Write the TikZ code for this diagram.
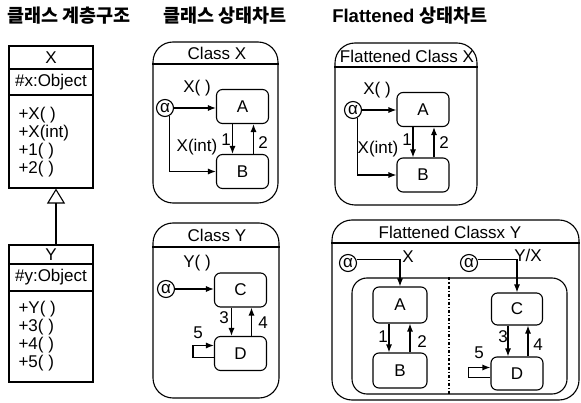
\documentclass[tikz,border=0pt]{standalone}
\usepackage{fontspec}
\setmainfont{Liberation Sans}
\newfontfamily\krfont{Noto Sans CJK KR}
\usetikzlibrary{arrows.meta}

\begin{document}
\begin{tikzpicture}[x = 1pt, y = -1pt, >={Latex[length = 8pt, width = 6pt]}, line width = 1.1pt,
	every node/.style = {font = \fontsize{17}{19}\selectfont, inner sep = 1pt},
	title/.style = {font = \fontsize{18.5}{20}\selectfont\bfseries},
	state/.style = {draw, rounded corners = 6pt, minimum width = 52pt, minimum height = 34pt},
	chart/.style = {draw, rounded corners = 20pt},
	initial/.style = {draw, circle, minimum size = 17pt, inner sep = 0pt}]
			 	\useasboundingbox (0,0) rectangle (581,403);
			 	%%%	Titoli
			 	\node[title] (tHier) at (69,16) {\krfont 클래스 계층구조};
			 	\node[title] (tChart) at (225,16) {\krfont 클래스 상태차트};
			 	\node[title] (tFlat) at (410,16) {Flattened {\krfont 상태차트}};
			 	
			 	%%%	Gerarchia delle classi
			 	\node[draw, minimum width = 84pt, minimum height = 142pt] (clsX) at (51,117) {};
			 	\draw (clsX.west |- 0,69) -- (clsX.east |- 0,69);
			 	\draw (clsX.west |- 0,95) -- (clsX.east |- 0,95);
			 	\node (nameX) at (51,57.5) {X};
			 	\node (attrX) at (51,82) {\#x:Object};
			 	\foreach \t [count = \i] in {+X( ),+X(int),+1( ),+2( )}
			 	\node[anchor = west] (opX\i) at (17, 97 + 18*\i) {\t};
			 	
			 	\node[draw, minimum width = 84pt, minimum height = 137pt] (clsY) at (51,313.5) {};
			 	\draw (clsY.west |- 0,264) -- (clsY.east |- 0,264);
			 	\draw (clsY.west |- 0,291) -- (clsY.east |- 0,291);
			 	\node (nameY) at (51,254.5) {Y};
			 	\node (attrY) at (51,277.5) {\#y:Object};
			 	\foreach \t [count = \i] in {+Y( ),+3( ),+4( ),+5( )}
			 	\node[anchor = west] (opY\i) at (17, 291 + 18*\i) {\t};
			 	
			 	\draw[-{Triangle[open, length = 15pt, width = 18pt]}] ([xshift = 5pt]clsY.north) -- ([xshift = 5pt]clsX.south);
			 	
			 	%%%	Class X
			 	\node[chart, minimum width = 125pt, minimum height = 161pt] (chX) at (215.5,122.5) {};
			 	\draw (chX.west |- 0,64) -- (chX.east |- 0,64);
			 	\node (tX) at (217,53) {Class X};
			 	\node[initial] (iniX) at (165,108) {α};
			 	\node[state] (sA) at (242.5,106.5) {A};
			 	\node[state] (sB) at (242.5,171.5) {B};
			 	\draw[->] (iniX) -- (iniX -| sA.west);
			 	\node (lXa) at (197,88) {X( )};
			 	\draw[->] (iniX.-60) |- (sB.west);
			 	\node (lXi) at (197,147) {X(int)};
			 	\draw[->] ([xshift = -10pt]sA.south) -- ([xshift = -10pt]sB.north);
			 	\draw[->] ([xshift = 11pt]sB.north) -- ([xshift = 11pt]sA.south);
			 	\node (lX1) at (226,140) {1};
			 	\node (lX2) at (263,143) {2};
			 	
			 	%%%	Class Y
			 	\node[chart, minimum width = 126pt, minimum height = 175pt] (chY) at (216,310.5) {};
			 	\draw (chY.west |- 0,247) -- (chY.east |- 0,247);
			 	\node (tY) at (217,235) {Class Y};
			 	\node[initial] (iniY) at (166,289) {α};
			 	\node[state] (sC) at (240.5,290) {C};
			 	\node[state] (sD) at (240.5,353.5) {D};
			 	\draw[->] (iniY) -- (iniY -| sC.west);
			 	\node (lYa) at (197,263) {Y( )};
			 	\draw[->] ([xshift = -9pt]sC.south) -- ([xshift = -9pt]sD.north);
			 	\draw[->] ([xshift = 11pt]sD.north) -- ([xshift = 11pt]sC.south);
			 	\draw[->] ([yshift = -4pt]sD.west) -- ++(-21,0) |- ([yshift = 8pt]sD.west);
			 	\node (lY3) at (224,318) {3};
			 	\node (lY4) at (263,323) {4};
			 	\node (lY5) at (198,333) {5};
			 	
			 	%%%	Flattened Class X
			 	\node[chart, minimum width = 142pt, minimum height = 162pt] (fchX) at (406,124) {};
			 	\draw (fchX.west |- 0,67) -- (fchX.east |- 0,67);
			 	\node (tFX) at (407,56) {Flattened Class X};
			 	\node[initial] (iniFX) at (353,110) {α};
			 	\node[state] (fA) at (423,109.5) {A};
			 	\node[state] (fB) at (423,175) {B};
			 	\draw[->] (iniFX) -- (iniFX -| fA.west);
			 	\node (lFXa) at (377,90) {X( )};
			 	\draw[->] (iniFX.-60) |- (fB.west);
			 	\node (lFXi) at (378,149) {X(int)};
			 	\draw[->] ([xshift = -10pt]fA.south) -- ([xshift = -10pt]fB.north);
			 	\draw[->] ([xshift = 11pt]fB.north) -- ([xshift = 11pt]fA.south);
			 	\node (lFX1) at (407,140) {1};
			 	\node (lFX2) at (444,143) {2};
			 	
			 	%%%	Flattened Classx Y
			 	\node[chart, minimum width = 247pt, minimum height = 180pt] (fchY) at (455.5,310) {};
			 	\draw (fchY.west |- 0,243) -- (fchY.east |- 0,243);
			 	\node (tFY) at (450,232) {Flattened Classx Y};
			 	\node[draw, rounded corners = 15pt, minimum width = 215pt, minimum height = 116pt] (reg) at (459.5,336) {};
			 	\draw[dash dot] (reg.north -| 449,0) -- (reg.south -| 449,0);
			 	
			 	\node[initial] (iniL) at (348,263) {α};
			 	\node[state, minimum width = 54pt, minimum height = 36pt] (ffA) at (400,305) {A};
			 	\node[state, minimum width = 54pt, minimum height = 35pt] (ffB) at (400,370.5) {B};
			 	\draw[->] (iniL.20) -| (ffA.north);
			 	\node (lL) at (408,257) {X};
			 	\draw[->] ([xshift = -11pt]ffA.south) -- ([xshift = -11pt]ffB.north);
			 	\draw[->] ([xshift = 10pt]ffB.north) -- ([xshift = 10pt]ffA.south);
			 	\node (lL1) at (383,337) {1};
			 	\node (lL2) at (422,342) {2};
			 	
			 	\node[initial] (iniR) at (469,263) {α};
			 	\node[state, minimum width = 51pt, minimum height = 32pt] (ffC) at (517,309) {C};
			 	\node[state, minimum width = 52pt, minimum height = 33pt] (ffD) at (517,373.5) {D};
			 	\draw[->] (iniR.20) -| (ffC.north);
			 	\node (lR) at (528,255) {Y/X};
			 	\draw[->] ([xshift = -9pt]ffC.south) -- ([xshift = -9pt]ffD.north);
			 	\draw[->] ([xshift = 11pt]ffD.north) -- ([xshift = 11pt]ffC.south);
			 	\draw[->] ([yshift = -4pt]ffD.west) -- ++(-22,0) |- ([yshift = 6pt]ffD.west);
			 	\node (lR3) at (503,337) {3};
			 	\node (lR4) at (538,345) {4};
			 	\node (lR5) at (479,353) {5};
			 	
			 \end{tikzpicture}
\end{document}
